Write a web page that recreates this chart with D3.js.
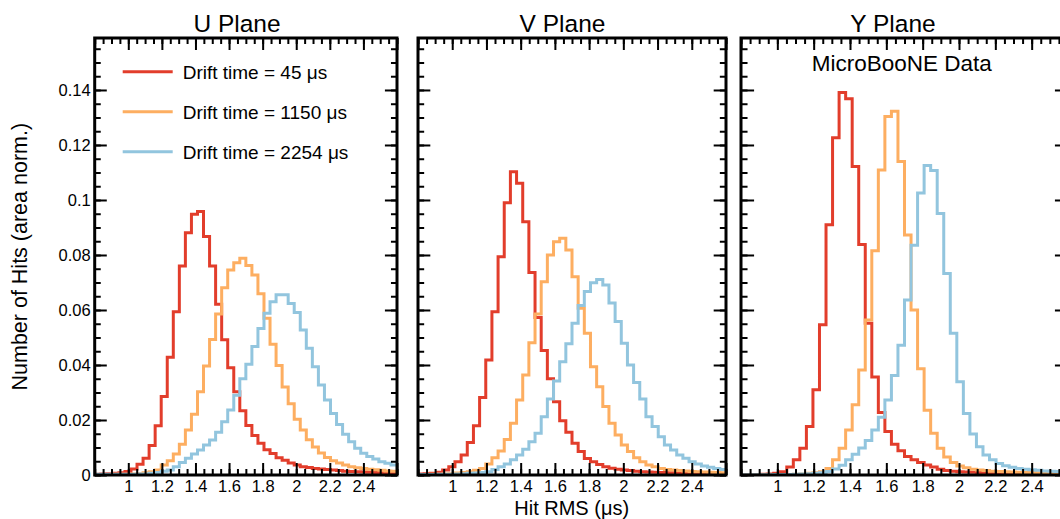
<!DOCTYPE html>
<html><head><meta charset="utf-8">
<script src="https://cdn.jsdelivr.net/npm/d3@7"></script>
<style>
html,body{margin:0;padding:0;background:#fff;}
svg{display:block;font-family:"Liberation Sans",Arial,Helvetica,sans-serif;}
</style>
</head><body>
<svg id="chart" width="1060" height="519"></svg>
<script>
// ---------------- data ----------------
const binLow = 0.8, binWidth = 0.036;          // 50 bins from 0.8 to 2.6 us
const planeTitles = ["U Plane", "V Plane", "Y Plane"];
const seriesLabels = ["Drift time = 45 \u03bcs", "Drift time = 1150 \u03bcs", "Drift time = 2254 \u03bcs"];
const seriesColors = ["#e23d2b", "#fdae61", "#92c5de"];
const xMajorTicks = [0.8, 1.0, 1.2, 1.4, 1.6, 1.8, 2.0, 2.2, 2.4, 2.6];
const xTickLabels = ["", "1", "1.2", "1.4", "1.6", "1.8", "2", "2.2", "2.4", ""];
const yMajorTicks = [0, 0.02, 0.04, 0.06, 0.08, 0.10, 0.12, 0.14];
const yTickLabels = ["0", "0.02", "0.04", "0.06", "0.08", "0.1", "0.12", "0.14"];
const xAxisTitle = "Hit RMS (\u03bcs)";
const yAxisTitle = "Number of Hits (area norm.)";
const dataLabel = "MicroBooNE Data";

const uRed = [0.0003,0.0004,0.0005,0.0006,0.0008,0.0013,0.0022,0.0039,0.0061,0.0107,
  0.0179,0.0285,0.0428,0.0594,0.0760,0.0881,0.0948,0.0958,0.0867,0.0760,
  0.0621,0.0492,0.0390,0.0303,0.0234,0.0180,0.0144,0.0115,0.0092,0.0078,
  0.0063,0.0054,0.0044,0.0036,0.0030,0.0027,0.0024,0.0022,0.0020,0.0018,
  0.0016,0.0014,0.0013,0.0012,0.0011,0.0010,0.0009,0.0008,0.0007,0.0007];
const uOrange = [0.0002,0.0002,0.0002,0.0003,0.0003,0.0003,0.0004,0.0005,0.0008,0.0012,
  0.0018,0.0036,0.0052,0.0076,0.0112,0.0164,0.0221,0.0303,0.0396,0.0493,
  0.0585,0.0681,0.0745,0.0772,0.0788,0.0762,0.0727,0.0659,0.0570,0.0475,
  0.0398,0.0320,0.0259,0.0203,0.0164,0.0128,0.0102,0.0080,0.0064,0.0052,
  0.0044,0.0036,0.0030,0.0026,0.0024,0.0021,0.0019,0.0017,0.0015,0.0014];
const uBlue = [0.0003,0.0003,0.0003,0.0003,0.0003,0.0003,0.0003,0.0004,0.0004,0.0006,
  0.0009,0.0014,0.0018,0.0030,0.0045,0.0061,0.0076,0.0091,0.0109,0.0127,
  0.0155,0.0194,0.0236,0.0290,0.0350,0.0403,0.0467,0.0533,0.0588,0.0630,
  0.0655,0.0655,0.0624,0.0591,0.0527,0.0461,0.0394,0.0327,0.0273,0.0224,
  0.0184,0.0148,0.0121,0.0097,0.0079,0.0067,0.0058,0.0048,0.0043,0.0036];

const vRed = [0.0004,0.0005,0.0006,0.0010,0.0018,0.0030,0.0048,0.0073,0.0118,0.0179,
  0.0282,0.0418,0.0594,0.0794,0.0990,0.1103,0.1061,0.0921,0.0736,0.0573,
  0.0453,0.0350,0.0266,0.0197,0.0155,0.0115,0.0085,0.0060,0.0048,0.0038,
  0.0030,0.0025,0.0021,0.0018,0.0016,0.0014,0.0012,0.0011,0.0010,0.0009,
  0.0008,0.0008,0.0007,0.0007,0.0006,0.0006,0.0005,0.0005,0.0005,0.0004];
const vOrange = [0.0002,0.0002,0.0003,0.0003,0.0004,0.0005,0.0007,0.0009,0.0012,0.0017,
  0.0024,0.0040,0.0063,0.0087,0.0129,0.0188,0.0273,0.0364,0.0481,0.0585,
  0.0703,0.0800,0.0848,0.0861,0.0818,0.0721,0.0606,0.0515,0.0394,0.0321,
  0.0249,0.0188,0.0145,0.0109,0.0085,0.0063,0.0048,0.0036,0.0030,0.0024,
  0.0020,0.0018,0.0016,0.0015,0.0013,0.0012,0.0011,0.0010,0.0009,0.0008];
const vBlue = [0.0002,0.0002,0.0002,0.0003,0.0003,0.0003,0.0004,0.0005,0.0006,0.0007,
  0.0009,0.0012,0.0020,0.0030,0.0040,0.0055,0.0073,0.0094,0.0121,0.0152,
  0.0212,0.0276,0.0342,0.0412,0.0477,0.0552,0.0616,0.0667,0.0699,0.0711,
  0.0691,0.0625,0.0558,0.0479,0.0400,0.0336,0.0276,0.0212,0.0176,0.0139,
  0.0109,0.0091,0.0073,0.0061,0.0048,0.0040,0.0033,0.0028,0.0024,0.0020];

const yRed = [0.0002,0.0002,0.0002,0.0003,0.0004,0.0006,0.0012,0.0029,0.0055,0.0097,
  0.0176,0.0310,0.0546,0.0910,0.1226,0.1391,0.1368,0.1122,0.0838,0.0552,
  0.0356,0.0227,0.0158,0.0112,0.0088,0.0067,0.0055,0.0045,0.0036,0.0029,
  0.0021,0.0016,0.0014,0.0012,0.0011,0.0010,0.0009,0.0008,0.0008,0.0007,
  0.0007,0.0006,0.0006,0.0005,0.0005,0.0005,0.0004,0.0004,0.0004,0.0003];
const yOrange = [0.0001,0.0001,0.0001,0.0001,0.0001,0.0001,0.0002,0.0002,0.0003,0.0004,
  0.0006,0.0008,0.0012,0.0024,0.0055,0.0097,0.0164,0.0255,0.0382,0.0564,
  0.0815,0.1109,0.1304,0.1323,0.1140,0.0873,0.0600,0.0386,0.0235,0.0152,
  0.0097,0.0065,0.0045,0.0033,0.0026,0.0021,0.0018,0.0016,0.0014,0.0013,
  0.0012,0.0011,0.0010,0.0009,0.0009,0.0008,0.0008,0.0007,0.0007,0.0006];
const yBlue = [0.0001,0.0001,0.0001,0.0001,0.0001,0.0002,0.0002,0.0002,0.0003,0.0004,
  0.0005,0.0006,0.0008,0.0013,0.0022,0.0035,0.0055,0.0075,0.0098,0.0125,
  0.0164,0.0210,0.0273,0.0362,0.0472,0.0636,0.0835,0.1025,0.1125,0.1107,
  0.0951,0.0733,0.0515,0.0339,0.0224,0.0149,0.0103,0.0073,0.0055,0.0042,
  0.0034,0.0028,0.0024,0.0021,0.0019,0.0017,0.0015,0.0014,0.0013,0.0012];

const planeSeries = [[uRed, uOrange, uBlue], [vRed, vOrange, vBlue], [yRed, yOrange, yBlue]];

// ---------------- layout ----------------
const frames = [
  {x0: 94.7, x1: 397, titleX: 237},
  {x0: 418, x1: 726, titleX: 562.5},
  {x0: 741, x1: 1068, titleX: 893}
];
const yTop = 38, yBottom = 475;
const xDomain = [0.8, 2.6], yDomain = [0, 0.1589];

const svg = d3.select("#chart");
svg.append("rect").attr("width", 1060).attr("height", 519).attr("fill", "#fff");
const defs = svg.append("defs");

const xMinor = d3.range(0.8, 2.6001, 0.05);
const yMinor = d3.range(0, 0.1589, 0.005);

frames.forEach((f, pi) => {
  const x = d3.scaleLinear().domain(xDomain).range([f.x0, f.x1]);
  const y = d3.scaleLinear().domain(yDomain).range([yBottom, yTop]);
  const w = f.x1 - f.x0;
  const yMaj = 0.04 * w, yMin = 0.02 * w, xMaj = 12, xMin = 6;
  const g = svg.append("g");

  defs.append("clipPath").attr("id", "clip" + pi).append("rect")
    .attr("x", f.x0).attr("y", yTop).attr("width", w).attr("height", yBottom - yTop);

  const hg = g.append("g").attr("clip-path", `url(#clip${pi})`);
  planeSeries[pi].forEach((vals, si) => {
    const pts = [];
    vals.forEach((v, i) => {
      const lo = binLow + i * binWidth, hi = lo + binWidth;
      pts.push([x(lo), y(v)], [x(hi), y(v)]);
    });
    hg.append("path")
      .attr("d", d3.line()(pts))
      .attr("fill", "none")
      .attr("stroke", seriesColors[si])
      .attr("stroke-width", 3)
      .attr("stroke-linejoin", "miter");
  });

  const styleAxis = sel => {
    sel.select(".domain").remove();
    sel.selectAll(".tick line").attr("stroke", "#000").attr("stroke-width", 2);
    sel.selectAll("text").attr("fill", "#000").attr("font-size", "16.5px")
      .attr("font-family", "'Liberation Sans', Arial, sans-serif");
  };

  g.append("g").attr("transform", `translate(0,${yBottom})`)
    .call(d3.axisBottom(x).tickValues(xMinor).tickSize(-xMin).tickFormat(""))
    .call(styleAxis);
  g.append("g").attr("transform", `translate(0,${yBottom})`)
    .call(d3.axisBottom(x).tickValues(xMajorTicks).tickSize(-xMaj).tickPadding(5)
      .tickFormat((d, i) => xTickLabels[i]))
    .call(styleAxis)
    .call(s => s.selectAll("text").attr("y", 5));
  g.append("g").attr("transform", `translate(0,${yTop})`)
    .call(d3.axisTop(x).tickValues(xMinor).tickSize(-xMin).tickFormat(""))
    .call(styleAxis);
  g.append("g").attr("transform", `translate(0,${yTop})`)
    .call(d3.axisTop(x).tickValues(xMajorTicks).tickSize(-xMaj).tickFormat(""))
    .call(styleAxis);
  g.append("g").attr("transform", `translate(${f.x0},0)`)
    .call(d3.axisLeft(y).tickValues(yMinor).tickSize(-yMin).tickFormat(""))
    .call(styleAxis);
  g.append("g").attr("transform", `translate(${f.x0},0)`)
    .call(d3.axisLeft(y).tickValues(yMajorTicks).tickSize(-yMaj).tickPadding(4)
      .tickFormat((d, i) => pi === 0 ? yTickLabels[i] : ""))
    .call(styleAxis);
  g.append("g").attr("transform", `translate(${f.x1},0)`)
    .call(d3.axisRight(y).tickValues(yMinor).tickSize(-yMin).tickFormat(""))
    .call(styleAxis);
  g.append("g").attr("transform", `translate(${f.x1},0)`)
    .call(d3.axisRight(y).tickValues(yMajorTicks).tickSize(-yMaj).tickFormat(""))
    .call(styleAxis);

  g.append("rect").attr("x", f.x0).attr("y", yTop).attr("width", w).attr("height", yBottom - yTop)
    .attr("fill", "none").attr("stroke", "#000").attr("stroke-width", 3);

  svg.append("text").attr("x", f.titleX).attr("y", 32).attr("text-anchor", "middle")
    .attr("font-size", "24.5px").attr("fill", "#000").text(planeTitles[pi]);
});

// legend (U plane)
const leg = svg.append("g");
seriesLabels.forEach((lab, i) => {
  const ly = 71.7 + 40 * i;
  leg.append("line").attr("x1", 122.7).attr("x2", 172.7).attr("y1", ly).attr("y2", ly)
    .attr("stroke", seriesColors[i]).attr("stroke-width", 3);
  leg.append("text").attr("x", 182.7).attr("y", ly + 7.5).attr("font-size", "19px")
    .attr("fill", "#000").text(lab);
});

svg.append("text").attr("x", 901.7).attr("y", 70.7).attr("text-anchor", "middle")
  .attr("font-size", "22.5px").attr("fill", "#000").text(dataLabel);

svg.append("text").attr("x", 571.7).attr("y", 514.5).attr("text-anchor", "middle")
  .attr("font-size", "20px").attr("fill", "#000").text(xAxisTitle);
svg.append("text").attr("transform", "translate(27,256.7) rotate(-90)")
  .attr("text-anchor", "middle").attr("font-size", "21.5px").attr("fill", "#000").text(yAxisTitle);
</script>
</body></html>
